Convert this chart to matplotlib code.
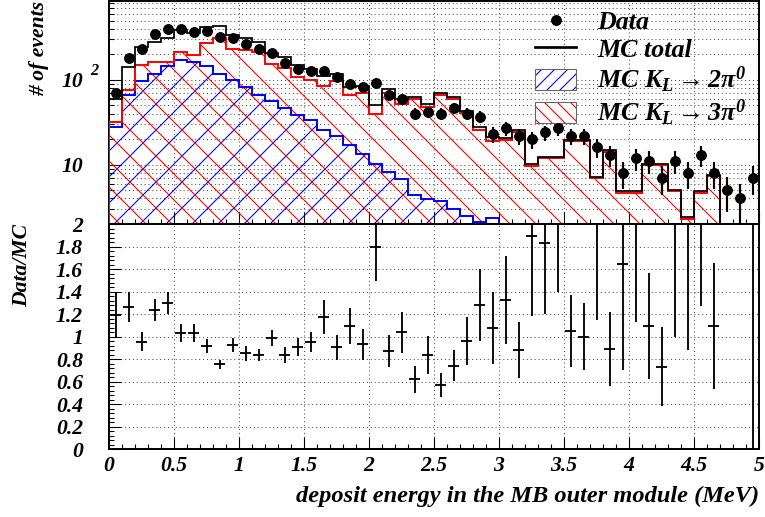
import numpy as np
import matplotlib
matplotlib.use("Agg")
import matplotlib.pyplot as plt
from matplotlib.patches import Patch
from matplotlib.lines import Line2D
from matplotlib.ticker import MultipleLocator, LogLocator, NullFormatter, FuncFormatter

# 50 bins of 0.1 MeV from 0 to 5 MeV
edges = np.round(np.linspace(0.0, 5.0, 51), 2)
centers = edges[:-1] + 0.05

# values
data = [70, 180, 232, 345, 400, 395, 370, 380, 323, 309,
        263, 232, 206, 157, 134, 126, 128, 107, 90, 83,
        92, 67, 60, 40, 42, 40, 47, 40, 37, 23,
        27, 22, 20, 24, 27, 22, 22, 16, 13, 8,
        12, 11, 7, 11, 8, 13, 8, 5, 4, 7]

mc_2pi0 = [27.5, 67, 97, 118, 147, 172, 164, 147, 118, 100,
           82, 66.6, 57, 46.4, 38.8, 34, 26, 22, 17, 13.5,
           10.3, 8.3, 6.7, 4.4, 3.95, 3.7, 3.0, 2.5, 2.1, 2.36,
           0, 0, 0, 0, 0, 0, 0, 0, 0, 0,
           0, 0, 0, 0, 0, 0, 0, 0, 0, 0]

mc_3pi0 = [32, 76, 148, 164, 164, 215, 197, 270, 309, 234,
           227, 211, 152, 138, 109, 100, 84, 96, 66, 70,
           39.8, 71, 52, 59, 47.7, 66.6, 60, 40.6, 25.8, 18.8,
           19.7, 24.6, 9.6, 11.9, 11.9, 18.9, 18.9, 6.9, 14.3, 4.7,
           4.7, 9.8, 9.8, 4.9, 2.3, 4.7, 7.3, 0, 0, 0]

mc_total = [59, 143, 245, 282, 311, 387, 361, 417, 427, 334,
            309, 278, 209, 184, 148, 134, 110, 118, 83, 84,
            50, 79, 59, 63, 52, 70, 63, 43, 28, 21.2,
            20.4, 25.4, 10.2, 12.4, 12.4, 19.6, 19.6, 7.1, 14.8, 4.9,
            4.9, 10.2, 10.2, 5.1, 2.4, 4.9, 7.5, 0, 0, 0]

ratio = [1.19, 1.265, 0.954, 1.236, 1.30, 1.03, 1.03, 0.915, 0.753, 0.924,
         0.85, 0.835, 0.984, 0.835, 0.904, 0.954, 1.176, 0.904, 1.093, 0.93,
         1.80, 0.871, 1.037, 0.622, 0.836, 0.569, 0.741, 0.96, 1.28, 1.078,
         1.324, 0.88, 1.896, 1.834, 2.27, 1.052, 0.998, 2.4, 0.889, 1.644,
         2.6, 1.093, 0.732, 2.2, 3.5, 2.8, 1.093, np.nan, np.nan, 4.0]

ratio_err = [0.2, 0.135, 0.085, 0.1, 0.1, 0.08, 0.08, 0.06, 0.04, 0.06,
             0.07, 0.05, 0.07, 0.07, 0.08, 0.09, 0.15, 0.11, 0.16, 0.14,
             0.31, 0.14, 0.185, 0.12, 0.17, 0.11, 0.14, 0.21, 0.32, 0.32,
             0.39, 0.25, 0.71, 0.63, 0.87, 0.32, 0.3, 1.25, 0.33, 0.94,
             1.47, 0.47, 0.35, 1.2, 2.62, 1.53, 0.56, np.nan, np.nan, 4.5]

# ROOT-like look: bold italic serif everywhere
plt.rcParams['font.family'] = ['Liberation Serif', 'DejaVu Serif']
plt.rcParams['font.weight'] = 'bold'
plt.rcParams['font.style'] = 'italic'
plt.rcParams['axes.labelweight'] = 'bold'
plt.rcParams['mathtext.fontset'] = 'custom'
plt.rcParams['mathtext.rm'] = 'Liberation Serif:bold:italic'
plt.rcParams['mathtext.it'] = 'Liberation Serif:bold:italic'
plt.rcParams['mathtext.bf'] = 'Liberation Serif:bold:italic'
plt.rcParams['hatch.linewidth'] = 1.0

DPI = 78
fig = plt.figure(figsize=(765 / DPI, 517 / DPI), dpi=DPI)
ax1 = fig.add_axes([0.1425, 0.5667, 0.8497, 0.4313])
ax2 = fig.add_axes([0.1425, 0.1315, 0.8497, 0.4352])

grid_style = dict(ls=(0, (1, 3)), color='0.25', lw=0.9)

# --- top panel ---
ax1.set_yscale('log', nonpositive='clip')
ax1.stairs(mc_2pi0, edges, baseline=1e-2, fill=True, facecolor='none',
           edgecolor='blue', hatch='/', lw=0, zorder=2)
ax1.stairs(mc_3pi0, edges, baseline=1e-2, fill=True, facecolor='none',
           edgecolor='red', hatch='\\', lw=0, zorder=2)
ax1.stairs(mc_2pi0, edges, baseline=1e-2, color='blue', lw=1.8, zorder=3)
ax1.stairs(mc_3pi0, edges, baseline=1e-2, color='red', lw=1.8, zorder=3)
ax1.stairs(mc_total, edges, baseline=None, color='black', lw=1.6, zorder=4)
ax1.errorbar(centers, data, yerr=np.sqrt(data), fmt='o', color='black',
             ms=9, elinewidth=2.0, capsize=0, zorder=5)

ax1.set_xlim(0, 5)
ax1.set_ylim(2, 850)
ax1.yaxis.set_major_locator(LogLocator(base=10))
ax1.yaxis.set_minor_locator(LogLocator(base=10, subs=np.arange(2, 10)))
ax1.yaxis.set_major_formatter(FuncFormatter(
    lambda v, p: '10' if int(round(v)) in (10, 100) else ''))
ax1.yaxis.set_minor_formatter(NullFormatter())
# exponent of the 10^2 label, ROOT style
ax1.text(-0.029, 128, '2', transform=ax1.get_yaxis_transform(),
         ha='left', va='center', fontsize=15)
ax1.xaxis.set_major_locator(MultipleLocator(0.5))
ax1.xaxis.set_minor_locator(MultipleLocator(0.1))
ax1.tick_params(axis='x', labelbottom=False)
ax1.grid(True, which='both', axis='y', **grid_style)
ax1.grid(True, which='major', axis='x', **grid_style)
ax1.set_axisbelow(True)
ax1.set_ylabel('# of events', loc='top', fontsize=20)
ax1.yaxis.set_label_coords(-0.093, 1.0)

blue_h = (Patch(facecolor='white', edgecolor='blue', hatch='//', lw=0),
          Patch(facecolor='none', edgecolor='0.4', lw=1))
red_h = (Patch(facecolor='white', edgecolor='red', hatch='\\\\', lw=0),
         Patch(facecolor='none', edgecolor='0.4', lw=1))
handles = [Line2D([], [], marker='o', ms=9, color='black', ls='none'),
           Line2D([], [], color='black', lw=2.5),
           blue_h, red_h]
labels = ['Data', 'MC total',
          r'MC $K_L \rightarrow 2\pi^0$', r'MC $K_L \rightarrow 3\pi^0$']
ax1.legend(handles, labels, loc='upper left', bbox_to_anchor=(0.655, 0.96),
           frameon=False, fontsize=24, handlelength=1.6, handleheight=0.85,
           handletextpad=0.8, labelspacing=0.12, borderpad=0, borderaxespad=0)

# --- ratio panel ---
ax2.errorbar(centers, ratio, xerr=0.045, yerr=ratio_err, fmt='none',
             ecolor='black', elinewidth=1.7, capsize=0, zorder=3)
ax2.set_xlim(0, 5)
ax2.set_ylim(0, 2)
ax2.yaxis.set_major_locator(MultipleLocator(0.2))
ax2.yaxis.set_minor_locator(MultipleLocator(0.04))
ax2.xaxis.set_major_locator(MultipleLocator(0.5))
ax2.xaxis.set_minor_locator(MultipleLocator(0.1))
fmt = FuncFormatter(lambda v, p: f'{v:g}')
ax2.yaxis.set_major_formatter(fmt)
ax2.xaxis.set_major_formatter(fmt)
ax2.grid(True, which='major', **grid_style)
ax2.set_axisbelow(True)
ax2.set_ylabel('Data/MC', loc='top', fontsize=20)
ax2.yaxis.set_label_coords(-0.118, 1.0)
ax2.set_xlabel('deposit energy in the MB outer module (MeV)', loc='right',
               fontsize=22.5)
ax2.xaxis.set_label_coords(1.0, -0.163)

for ax in (ax1, ax2):
    for s in ax.spines.values():
        s.set_linewidth(1.8)
    ax.tick_params(which='major', direction='in', length=11, width=1.0,
                   labelsize=20, pad=6)
    ax.tick_params(which='minor', direction='in', length=5, width=1.0)
ax1.tick_params(axis='y', which='major', pad=24)
ax2.tick_params(axis='y', which='major', pad=24)

fig.savefig('out.png', dpi=DPI)
